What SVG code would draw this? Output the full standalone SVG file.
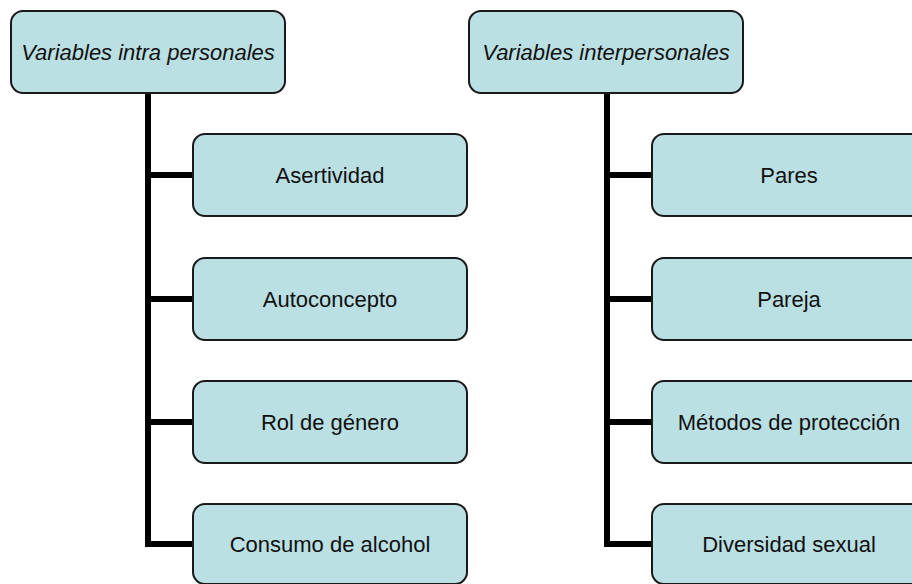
<svg xmlns="http://www.w3.org/2000/svg" width="912" height="584" viewBox="0 0 912 584">
<style>
.box{fill:#BAE0E3;stroke:#1a1a1a;stroke-width:2}
.t{font-family:"Liberation Sans",Arial,sans-serif;font-size:22px;fill:#111;text-anchor:middle}
.it{font-style:italic}
.c{fill:none;stroke:#000;stroke-width:6;stroke-linejoin:miter}
</style>
<rect width="912" height="584" fill="#fff"/>
<g id="connectors">
<path class="c" d="M148 93 V544 H193 M148 175 H193 M148 299 H193 M148 422 H193"/>
<path class="c" d="M607 93 V544 H652 M607 175 H652 M607 299 H652 M607 422 H652"/>
</g>
<g id="intra">
<rect class="box" x="11" y="11" width="274" height="82" rx="12"/>
<text class="t it" x="148" y="60">Variables intra personales</text>
</g>
<g id="asertividad">
<rect class="box" x="193" y="134" width="274" height="82" rx="12"/>
<text class="t" x="330" y="183">Asertividad</text>
</g>
<g id="autoconcepto">
<rect class="box" x="193" y="258" width="274" height="82" rx="12"/>
<text class="t" x="330" y="307">Autoconcepto</text>
</g>
<g id="rol">
<rect class="box" x="193" y="381" width="274" height="82" rx="12"/>
<text class="t" x="330" y="430">Rol de género</text>
</g>
<g id="consumo">
<rect class="box" x="193" y="504" width="274" height="80" rx="12"/>
<text class="t" x="330" y="552">Consumo de alcohol</text>
</g>
<g id="inter">
<rect class="box" x="469" y="11" width="274" height="82" rx="12"/>
<text class="t it" x="606" y="60">Variables interpersonales</text>
</g>
<g id="pares">
<rect class="box" x="652" y="134" width="274" height="82" rx="12"/>
<text class="t" x="789" y="183">Pares</text>
</g>
<g id="pareja">
<rect class="box" x="652" y="258" width="274" height="82" rx="12"/>
<text class="t" x="789" y="307">Pareja</text>
</g>
<g id="metodos">
<rect class="box" x="652" y="381" width="274" height="82" rx="12"/>
<text class="t" x="789" y="430">Métodos de protección</text>
</g>
<g id="diversidad">
<rect class="box" x="652" y="504" width="274" height="80" rx="12"/>
<text class="t" x="789" y="552">Diversidad sexual</text>
</g>
</svg>
